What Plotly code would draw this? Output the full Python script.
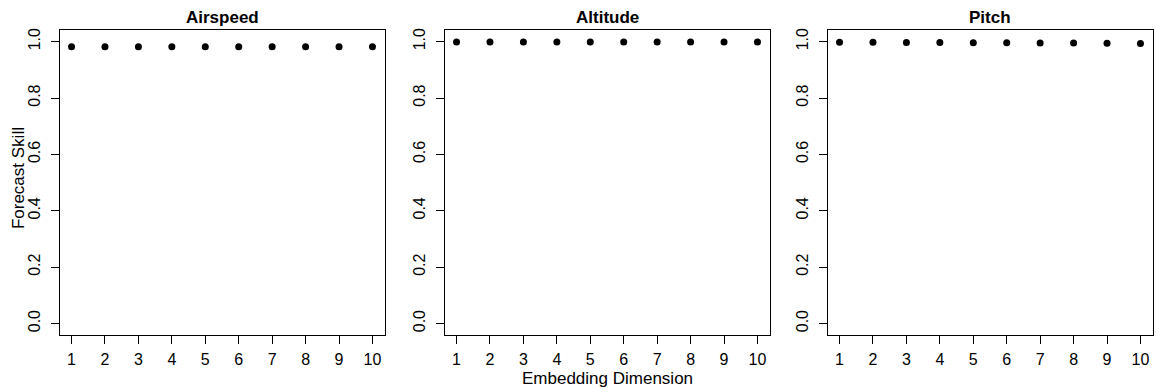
import plotly.graph_objects as go

W, H = 1156, 389

dims = [1, 2, 3, 4, 5, 6, 7, 8, 9, 10]
panel_titles = ["Airspeed", "Altitude", "Pitch"]
airspeed = [0.982, 0.982, 0.982, 0.982, 0.982, 0.982, 0.982, 0.982, 0.982, 0.982]
altitude = [0.999, 0.999, 0.999, 0.999, 0.999, 0.999, 0.999, 0.999, 0.999, 0.999]
pitch = [0.998, 0.998, 0.997, 0.997, 0.996, 0.996, 0.995, 0.995, 0.994, 0.993]
y_ticks = [0.0, 0.2, 0.4, 0.6, 0.8, 1.0]
y_ticktext = ["0.0", "0.2", "0.4", "0.6", "0.8", "1.0"]
series = [airspeed, altitude, pitch]

FONT = "Liberation Sans, Arial, Helvetica, sans-serif"

# panel boxes in pixels (left, right)
boxes = [(59.5, 384.5), (444.5, 769.5), (827.5, 1152.5)]
top_px, bot_px = 28.5, 334.5

fig = go.Figure()
for i, (vals, (l, r)) in enumerate(zip(series, boxes)):
    n = i + 1
    xa = "x" if n == 1 else f"x{n}"
    ya = "y" if n == 1 else f"y{n}"
    fig.add_trace(go.Scatter(
        x=dims, y=vals, mode="markers", xaxis=xa, yaxis=ya,
        marker=dict(size=7, color="black"), showlegend=False))
    axis_common = dict(showline=True, linecolor="black", linewidth=1, mirror=True,
                       ticks="outside", ticklen=8, tickcolor="black", tickwidth=1,
                       showgrid=False, zeroline=False,
                       tickfont=dict(family=FONT, size=16, color="black"))
    fig.layout[f"xaxis{'' if n == 1 else n}"] = dict(
        domain=[l / W, r / W], anchor=ya, range=[0.64, 10.36],
        tickvals=dims, ticktext=[str(d) for d in dims], ticklabelstandoff=2, **axis_common)
    fig.layout[f"yaxis{'' if n == 1 else n}"] = dict(
        domain=[1 - bot_px / H, 1 - top_px / H], anchor=xa, range=[-0.04, 1.04],
        tickvals=y_ticks, ticktext=y_ticktext, tickangle=-90, ticklabelstandoff=4, **axis_common)
    fig.add_annotation(text=f"<b>{panel_titles[i]}</b>", xref="paper", yref="paper",
                       x=(l + r) / 2 / W, y=1 - 16 / H, xanchor="center", yanchor="middle",
                       showarrow=False, font=dict(family=FONT, size=17, color="black"))

fig.add_annotation(text="Forecast Skill", xref="paper", yref="paper",
                   x=18.5 / W, y=1 - 177.5 / H, xanchor="center", yanchor="middle",
                   textangle=-90, showarrow=False,
                   font=dict(family=FONT, size=17, color="black"))
fig.add_annotation(text="Embedding Dimension", xref="paper", yref="paper",
                   x=(boxes[1][0] + boxes[1][1]) / 2 / W, y=1 - 378.5 / H,
                   xanchor="center", yanchor="middle", showarrow=False,
                   font=dict(family=FONT, size=17, color="black"))

fig.update_layout(width=W, height=H, margin=dict(l=0, r=0, t=0, b=0),
                  plot_bgcolor="white", paper_bgcolor="white")
fig.write_html("out.html")
